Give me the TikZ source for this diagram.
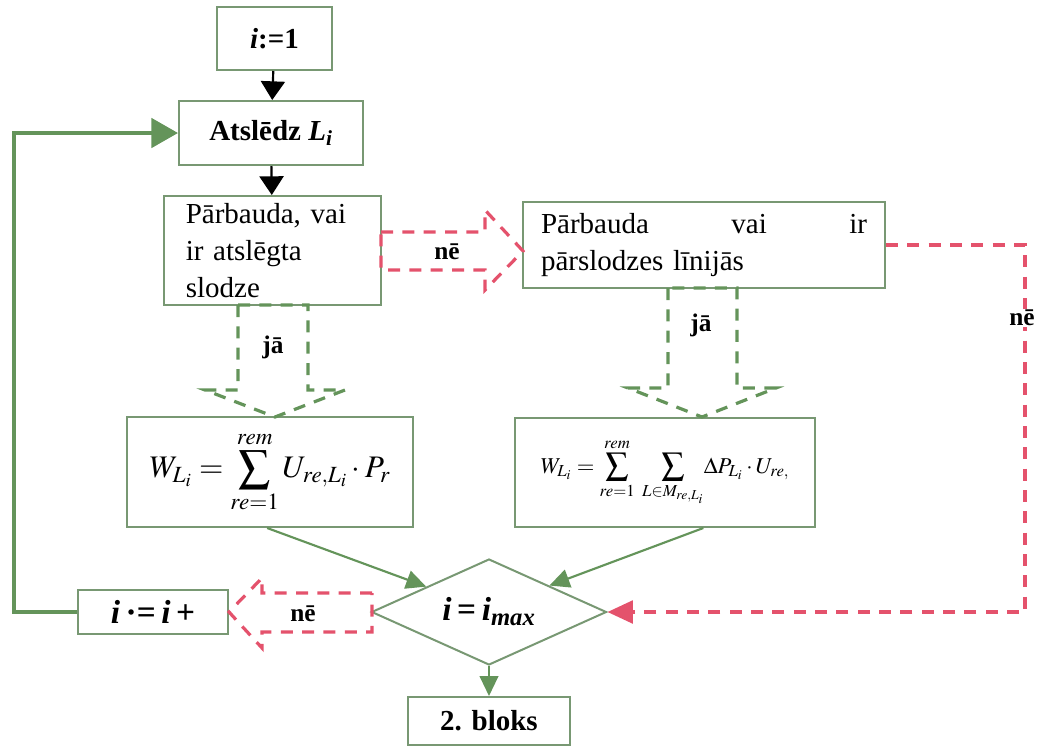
\documentclass[tikz,border=0pt]{standalone}
\usepackage{mathptmx}
\usepackage[no-math]{fontspec}
\setmainfont{Liberation Serif}
\usetikzlibrary{shapes.geometric,arrows.meta,calc}
\definecolor{boxg}{RGB}{120,152,115}
\definecolor{arrg}{RGB}{100,148,90}
\definecolor{redd}{RGB}{228,82,108}
\begin{document}
\begin{tikzpicture}[x=0.75pt,y=-0.75pt,
  box/.style={draw=boxg,line width=1.5pt,inner sep=0pt,fill=white,font=\fontsize{21.75}{27.75}\selectfont},
  blk/.style={draw=black,line width=1.6pt,-{Triangle[length=14pt,width=18pt]}},
  garr/.style={draw=arrg,line width=1.6pt,-{Triangle[length=15pt,width=14pt]}},
  loop/.style={draw=arrg,line width=3pt,-{Triangle[length=20pt,width=22pt]}},
  rarr/.style={draw=redd,line width=2.4pt,dash pattern=on 9pt off 7pt,-{Triangle[length=19pt,width=17pt]}},
  rhol/.style={draw=redd,line width=2.4pt,dash pattern=on 9pt off 7pt},
  ghol/.style={draw=arrg,line width=2.4pt,dash pattern=on 9pt off 7pt},
  lbl/.style={font=\fontsize{19}{22}\selectfont\bfseries,inner sep=1pt}
]
\useasboundingbox (0,0) rectangle (1050,754);

% nodes
\node[box,minimum width=86.25pt,minimum height=47.25pt] (n1) at (274.5,38.5) {\textbf{\textit{i}:=1}};
\node[box,minimum width=138pt,minimum height=48pt] (n2) at (271,133) {\textbf{Atslēdz \textit{L}\textsubscript{\textit{i}}}};
\node[box,minimum width=162.75pt,minimum height=81.75pt,text width=130pt,align=left] (n3) at (272.5,250.5) {Pārbauda, vai\\ir atslēgta\\slodze};
\node[box,minimum width=271.5pt,minimum height=64.5pt,text width=244.5pt,align=left] (n4) at (704,245) {Pārbauda\hfill vai\hfill ir\\pārslodzes līnijās};
\node[box,minimum width=214.5pt,minimum height=82.5pt] (n5) at (270,472) {\fontsize{23.5}{27}\selectfont$\displaystyle W_{L_i}=\sum_{re=1}^{rem}U_{re,L_i}\cdot P_{r}$};
\node[box,minimum width=225pt,minimum height=81.75pt] (n6) at (665,472.5) {\fontsize{17}{20}\selectfont$\displaystyle W_{L_i}=\sum_{re=1}^{rem}\;\sum_{L\in M_{re,L_i}}\!\Delta P_{L_i}\cdot U_{re,}$};
\node[box,shape=diamond,aspect=2.2,minimum width=176.25pt,minimum height=79.5pt,font=\fontsize{25}{28}\selectfont] (d) at (489,612) {\textbf{\textit{i}\,=\,\textit{i}\textsubscript{\textit{max}}}};
\node[box,minimum width=112.5pt,minimum height=33pt,font=\fontsize{25}{28}\selectfont] (n7) at (153,612) {\textbf{\textit{i}\,·=\,\textit{i}\,+}};
\node[box,minimum width=121.5pt,minimum height=36pt] (n8) at (489,721) {\textbf{2. bloks}};

% black arrows
\draw[blk] (n1) -- (n2);
\draw[blk] (n2) -- (n3);

% hollow dashed block arrows
\draw[rhol] (381,232) -- (485,232) -- (485,210) -- (523,251) -- (485,290) -- (485,270) -- (381,270) -- cycle;
\node[lbl] (l1) at (447,252) {nē};
\draw[ghol] (238,305) -- (238,390) -- (205,390) -- (275,417) -- (345,390) -- (308,390) -- (308,305) -- cycle;
\node[lbl] (l2) at (273,347) {jā};
\draw[ghol] (668,288) -- (668,388) -- (628,388) -- (702,417) -- (776,388) -- (737,388) -- (737,288) -- cycle;
\node[lbl] (l3) at (701,325) {jā};
\draw[rhol] (372,593) -- (262,593) -- (262,578) -- (229,612) -- (262,648) -- (262,632) -- (372,632) -- cycle;
\node[lbl] (l4) at (303,614) {nē};

% red no path
\coordinate (c1) at (1025,245);
\coordinate (c2) at (1025,612);
\draw[rarr] (n4.east) -- (c1) -- (c2) -- (d.east);
\node[lbl,fill=white] (l5) at (1022,318) {nē};

% green arrows
\draw[garr] ($(n5.south west)!0.49!(n5.south east)$) -- ($(d.west)!0.47!(d.north)$);
\draw[garr] ($(n6.south west)!0.627!(n6.south east)$) -- ($(d.north)!0.51!(d.east)$);
\draw[garr] (d.south) -- (n8.north);

% loop back
\coordinate (c3) at (14,612);
\coordinate (c4) at (14,133);
\draw[loop] (n7.west) -- (c3) -- (c4) -- (n2.west);
\end{tikzpicture}
\end{document}
